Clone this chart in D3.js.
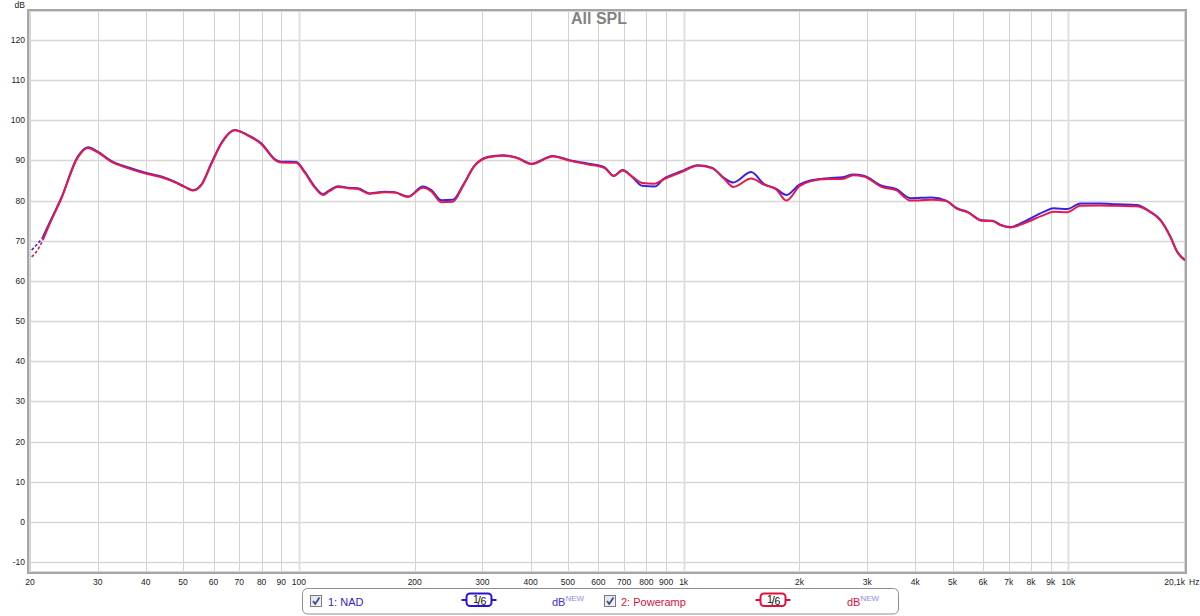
<!DOCTYPE html>
<html><head><meta charset="utf-8">
<script src="https://cdn.jsdelivr.net/npm/d3@7"></script>
<style>html,body{margin:0;padding:0;background:#fff;}svg{display:block;font-family:"Liberation Sans",Arial,sans-serif;}</style>
</head><body>
<svg id="c" width="1200" height="616"></svg>
<script>
// ---- data ----
const freqs = [20.2, 20.9, 21.6, 22.7, 24.1, 26.6, 28.3, 30.0, 32.5, 35.9, 39.7, 43.9, 47.5, 50.4, 53.0, 55.7, 59.2, 62.8, 68.1, 73.7, 79.8, 87.3, 89.9, 98.4, 103.5, 109.9, 115.5, 120.2, 126.3, 134.1, 142.4, 152.7, 167.1, 177.4, 192.1, 210.1, 220.9, 234.5, 251, 267.6, 285.4, 310.9, 338.6, 368.8, 401.9, 456.9, 508.5, 565.8, 623.3, 657.5, 693.7, 731.7, 780.1, 840.8, 887.2, 987.2, 1087, 1184, 1276, 1346, 1498, 1615, 1741, 1850, 2000, 2133, 2374, 2585, 2757, 2940, 3273, 3565, 3884, 4416, 4810, 5129, 5470, 5959, 6353, 6650, 7066, 7649, 8624, 9158, 9922, 10745, 12115, 13384, 15088, 16345, 17352, 18425, 19180, 20100];
const nadDb = [67.7, 69.2, 70.9, 75.3, 80.6, 90.9, 93.3, 92.2, 89.9, 88.3, 87.0, 86.0, 84.7, 83.5, 82.6, 83.9, 89.3, 94.3, 97.6, 96.3, 94.3, 90.1, 89.7, 89.6, 87.2, 83.5, 81.6, 82.6, 83.6, 83.2, 83.1, 81.8, 82.2, 82.1, 81.0, 83.5, 82.6, 80.1, 80.2, 84.0, 88.6, 90.9, 91.3, 90.7, 89.2, 91.1, 90.0, 89.2, 88.3, 86.2, 87.6, 86.1, 83.7, 83.5, 85.4, 87.3, 88.8, 88.2, 85.6, 84.5, 87.1, 84.2, 82.9, 81.4, 84.0, 85.0, 85.6, 85.8, 86.5, 86.2, 83.7, 82.9, 80.6, 80.8, 80.0, 78.1, 77.2, 75.1, 75.0, 74.0, 73.4, 74.7, 77.2, 78.1, 77.9, 79.3, 79.3, 79.1, 78.9, 77.2, 75.2, 71.0, 67.3, 65.2];
const powerampDb = [66.0, 67.6, 70.2, 75.0, 80.4, 90.7, 93.1, 92.0, 89.7, 88.1, 86.8, 85.8, 84.6, 83.4, 82.5, 83.8, 89.1, 94.1, 97.5, 96.2, 94.1, 89.9, 89.5, 89.4, 87.0, 83.3, 81.4, 82.4, 83.4, 83.1, 82.9, 81.7, 82.1, 82.0, 80.9, 83.2, 82.3, 79.6, 79.7, 83.8, 88.5, 90.8, 91.2, 90.6, 89.1, 91.0, 89.9, 89.0, 88.1, 86.1, 87.5, 86.1, 84.4, 84.2, 85.3, 87.1, 88.7, 88.1, 85.4, 83.4, 85.5, 84.0, 82.8, 80.0, 83.6, 84.8, 85.4, 85.4, 86.3, 86.0, 83.4, 82.6, 80.0, 80.2, 79.9, 78.0, 77.1, 75.0, 74.9, 73.9, 73.3, 74.3, 76.4, 77.2, 77.1, 78.7, 78.8, 78.7, 78.6, 77.1, 75.1, 70.9, 67.2, 65.1];
const dashedUntil = 21.6; // measurement below this drawn dashed
const xTicks = [20, 30, 40, 50, 60, 70, 80, 90, 100, 200, 300, 400, 500, 600, 700, 800, 900, 1000, 2000, 3000, 4000, 5000, 6000, 7000, 8000, 9000, 10000];
const xTickLabels = ["20", "30", "40", "50", "60", "70", "80", "90", "100", "200", "300", "400", "500", "600", "700", "800", "900", "1k", "2k", "3k", "4k", "5k", "6k", "7k", "8k", "9k", "10k"];
const yTicks = [-10, 0, 10, 20, 30, 40, 50, 60, 70, 80, 90, 100, 110, 120];
const seriesNames = ["1: NAD", "2: Poweramp"];
const title = "All SPL";

// ---- layout ----
const svg = d3.select("#c");
const L = 28, R = 1186, T = 10, B = 573;
const x = d3.scaleLog().domain([20, 20100]).range([30, 1185]);
const y = d3.scaleLinear().domain([-10, 120]).range([562, 40]);
const BLUE = "#3a22e4", RED = "#e41a4c";

// grid
const g = svg.append("g");
g.selectAll(".hg").data(yTicks).join("line")
  .attr("x1", L).attr("x2", R).attr("y1", d => Math.round(y(d)) + 0.5).attr("y2", d => Math.round(y(d)) + 0.5)
  .attr("stroke", "#d6d6d6").attr("stroke-width", 1.5);
g.selectAll(".vg").data(xTicks).join("line")
  .attr("x1", d => Math.round(x(d)) + 0.5).attr("x2", d => Math.round(x(d)) + 0.5).attr("y1", T).attr("y2", B)
  .attr("stroke", d => (d === 100 || d === 1000 || d === 10000) ? "#e0e0e0" : "#d2d2d2")
  .attr("stroke-width", d => (d === 100 || d === 1000 || d === 10000) ? 2 : 1);

// frame
svg.append("rect").attr("x", L).attr("y", T).attr("width", R - L).attr("height", B - T)
  .attr("fill", "none").attr("stroke", "#a6a6a6").attr("stroke-width", 2);
svg.append("rect").attr("x", L + 1.5).attr("y", T + 1.5).attr("width", R - L - 3).attr("height", B - T - 3)
  .attr("fill", "none").attr("stroke", "#d8d8d8").attr("stroke-width", 1);

// axis labels
const lab = svg.append("g").attr("font-size", "8.5px").attr("fill", "#222");
lab.selectAll(".yl").data(yTicks).join("text")
  .attr("x", 25).attr("y", d => y(d) + 3).attr("text-anchor", "end").text(d => d);
lab.append("text").attr("x", 25).attr("y", 8).attr("text-anchor", "end").text("dB");
lab.selectAll(".xl").data(xTicks).join("text")
  .attr("x", d => x(d)).attr("y", 585).attr("text-anchor", "middle").text((d, i) => xTickLabels[i]);
lab.append("text").attr("x", 1185).attr("y", 585).attr("text-anchor", "end").text("20,1k");
lab.append("text").attr("x", 1189).attr("y", 585).attr("text-anchor", "start").text("Hz");

// title
svg.append("text").attr("x", 599).attr("y", 24).attr("text-anchor", "middle")
  .attr("font-size", "16px").attr("font-weight", "bold").attr("fill", "#828282").text(title);

// curves
const clip = svg.append("clipPath").attr("id", "pc").append("rect")
  .attr("x", L + 1).attr("y", T + 1).attr("width", R - L - 2).attr("height", B - T - 2);
const line = d3.line().x(d => x(d.f)).y(d => y(d.v)).curve(d3.curveMonotoneX);
function drawSeries(vals, color) {
  const pts = freqs.map((f, i) => ({f, v: vals[i]}));
  const dashed = pts.filter(p => p.f <= dashedUntil);
  const solid = pts.filter(p => p.f >= dashedUntil);
  const gg = svg.append("g").attr("clip-path", "url(#pc)");
  gg.append("path").attr("d", line(dashed)).attr("fill", "none").attr("stroke", color)
    .attr("stroke-width", 1.6).attr("stroke-dasharray", "3,2");
  gg.append("path").attr("d", line(solid)).attr("fill", "none").attr("stroke", color)
    .attr("stroke-width", 2).attr("stroke-linejoin", "round");
}
drawSeries(nadDb, BLUE);
drawSeries(powerampDb, RED);

// legend
const lg = svg.append("g").attr("font-size", "11px");
lg.append("rect").attr("x", 302.5).attr("y", 588.5).attr("width", 596).attr("height", 25.5).attr("rx", 5)
  .attr("fill", "#fff").attr("stroke", "#8e8e8e").attr("stroke-width", 1);
const defs = svg.append("defs");
const gr = defs.append("linearGradient").attr("id", "cbg").attr("x1", 0).attr("y1", 0).attr("x2", 1).attr("y2", 1);
gr.append("stop").attr("offset", "0%").attr("stop-color", "#e2e2e2");
gr.append("stop").attr("offset", "100%").attr("stop-color", "#f8f8f8");
function checkbox(cx) {
  lg.append("rect").attr("x", cx + 0.5).attr("y", 595.5).attr("width", 11).attr("height", 11)
    .attr("fill", "url(#cbg)").attr("stroke", "#7c7c7c");
  lg.append("path").attr("d", `M${cx + 3},${601} L${cx + 5.2},${604} L${cx + 9.5},${597.5}`)
    .attr("fill", "none").attr("stroke", "#34509a").attr("stroke-width", 1.8);
}
function smooth(bx, color) {
  lg.append("line").attr("x1", bx - 5).attr("x2", bx + 30).attr("y1", 600).attr("y2", 600)
    .attr("stroke", color).attr("stroke-width", 2);
  lg.append("rect").attr("x", bx).attr("y", 593.5).attr("width", 25).attr("height", 12.5).attr("rx", 3.5)
    .attr("fill", "#fff").attr("stroke", color).attr("stroke-width", 2);
  const t = lg.append("text").attr("fill", "#111");
  t.append("tspan").attr("x", bx + 6.5).attr("y", 602.5).attr("font-size", "10.5px").text("1");
  t.append("tspan").attr("x", bx + 11).attr("y", 604.5).attr("font-size", "12px").text("/");
  t.append("tspan").attr("x", bx + 14).attr("y", 605).attr("font-size", "10.5px").text("6");
}
function dbNew(bx, color) {
  const t = lg.append("text").attr("x", bx).attr("y", 606);
  t.append("tspan").attr("fill", color).text("dB");
  t.append("tspan").attr("fill", "#8c8ce6").attr("font-size", "8px").attr("dy", -5).text("NEW");
}
checkbox(310);
lg.append("text").attr("x", 328).attr("y", 606).attr("fill", "#3322cc").text(seriesNames[0]);
smooth(466.5, "#2a14d6");
dbNew(552, "#4030c8");
checkbox(604);
lg.append("text").attr("x", 621).attr("y", 606).attr("fill", "#d8123c").text(seriesNames[1]);
smooth(760.5, "#e0103c");
dbNew(847, "#d8123c");
</script>
</body></html>
